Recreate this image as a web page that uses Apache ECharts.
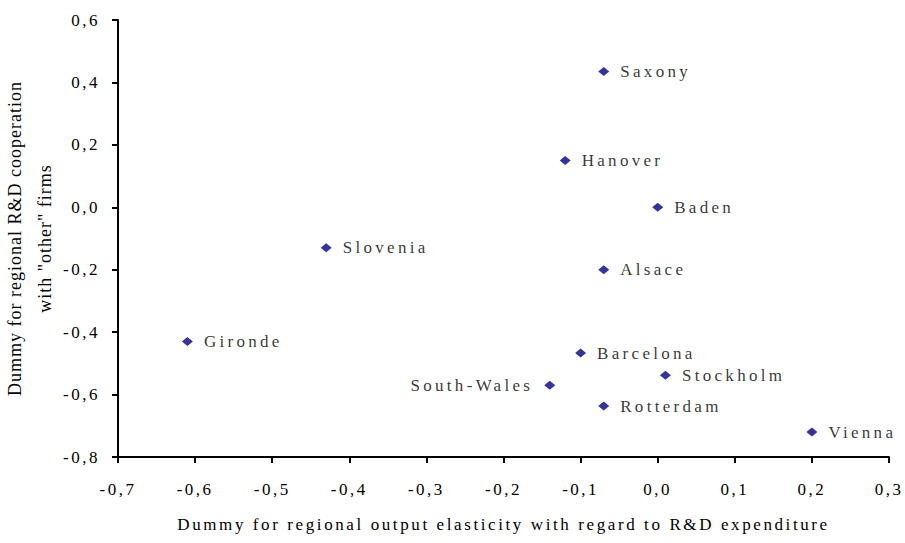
<!DOCTYPE html>
<html>
<head>
<meta charset="utf-8">
<script src="https://cdn.jsdelivr.net/npm/echarts@6/dist/echarts.min.js"></script>
<style>
html,body{margin:0;padding:0;background:#fff;}
#main{width:905px;height:543px;}
</style>
</head>
<body>
<div id="main"></div>
<script>
var regions = ['Saxony','Hanover','Baden','Alsace','Slovenia','Gironde','Barcelona','South-Wales','Stockholm','Rotterdam','Vienna'];
var xValues = [-0.07,-0.12,0.0,-0.07,-0.43,-0.61,-0.10,-0.14,0.01,-0.07,0.20];
var yValues = [0.435,0.15,0.0,-0.20,-0.13,-0.43,-0.467,-0.57,-0.538,-0.637,-0.72];
var leftLabeled = ['South-Wales'];
var xTitle = 'Dummy for regional output elasticity with regard to R&D expenditure';
var yTitle = 'Dummy for regional R&D cooperation\nwith "other" firms';

var FONT = "'Liberation Serif','Times New Roman',serif";
function fmt(v){ if (Math.abs(v) < 1e-9) return '0,0'; return v.toFixed(1).replace('.', ','); }

var data = regions.map(function(r,i){
  var left = leftLabeled.indexOf(r) >= 0;
  return {name:r, value:[xValues[i], yValues[i]],
    label:{position: left ? 'left' : 'right'}};
});

var chart = echarts.init(document.getElementById('main'), null, {renderer:'svg'});
chart.setOption({
  animation:false,
  grid:{left:118, right:16, top:20, bottom:86, containLabel:false, outerBoundsMode:'none'},
  xAxis:{type:'value', min:-0.7, max:0.3, interval:0.1,
    name:xTitle, nameLocation:'middle', nameGap:59,
    nameTextStyle:{fontFamily:FONT, fontSize:17, color:'#000'},
    axisLine:{show:true, onZero:false, lineStyle:{color:'#000', width:2}},
    axisTick:{show:true, length:6, lineStyle:{color:'#000', width:2}},
    axisLabel:{formatter:fmt, fontFamily:FONT, fontSize:17, color:'#000', margin:24},
    splitLine:{show:false}},
  yAxis:{type:'value', min:-0.8, max:0.6, interval:0.2,
    name:yTitle, nameLocation:'middle', nameGap:58, nameRotate:90,
    nameTextStyle:{fontFamily:FONT, fontSize:18, color:'#000', lineHeight:30},
    axisLine:{show:true, onZero:false, lineStyle:{color:'#000', width:2}},
    axisTick:{show:true, length:6, lineStyle:{color:'#000', width:2}},
    axisLabel:{formatter:fmt, fontFamily:FONT, fontSize:17, color:'#000', margin:18},
    splitLine:{show:false}},
  series:[{type:'scatter', symbol:'diamond', symbolSize:[11,9],
    itemStyle:{color:'#000080'},
    label:{show:true, formatter:'{b}', distance:11, fontFamily:FONT, fontSize:17, color:'#000'},
    data:data}]
});

setTimeout(function(){
  var texts = document.querySelectorAll('#main text');
  texts.forEach(function(t){
    var s = t.textContent;
    if (s.indexOf('R&D cooperation') >= 0 || s.indexOf('other') >= 0) { t.style.letterSpacing = '1px'; return; }
    if (s === xTitle) { t.style.letterSpacing = '2.6px'; return; }
    if (/^-?\d,\d$/.test(s)) { t.style.letterSpacing = '2.5px'; return; }
    t.style.letterSpacing = '3.3px';
  });
}, 0);
</script>
</body>
</html>
